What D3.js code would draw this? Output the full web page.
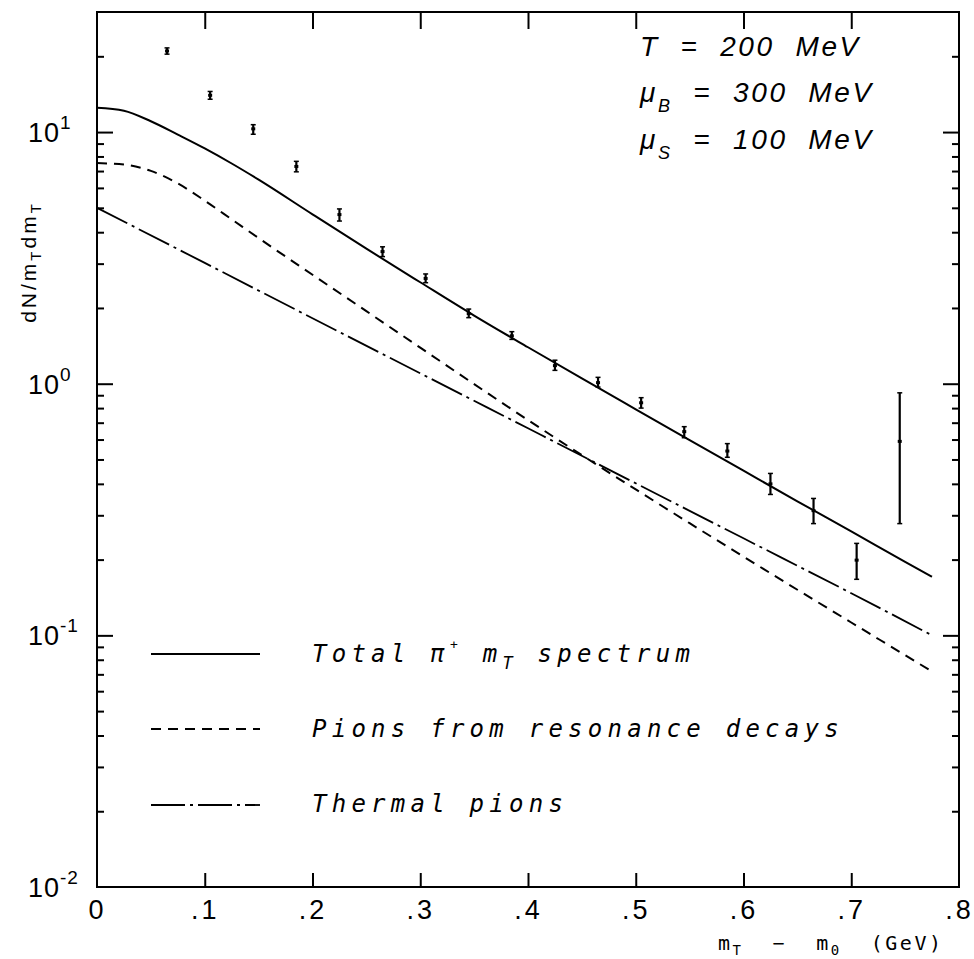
<!DOCTYPE html>
<html><head><meta charset="utf-8">
<script src="https://cdn.jsdelivr.net/npm/d3@7"></script>
<style>body{margin:0;background:#fff}svg{display:block}</style>
</head><body>
<svg id="chart" width="974" height="959"></svg>
<script>
// ---- data ----
const curveX   = [0,0.025,0.05,0.075,0.1,0.125,0.15,0.2,0.25,0.3,0.35,0.4,0.45,0.5,0.55,0.6,0.65,0.7,0.75,0.775];
const totalY   = [12.5,12.16,11.04,9.77,8.61,7.50,6.47,4.71,3.44,2.53,1.866,1.396,1.049,0.791,0.597,0.451,0.341,0.259,0.196,0.171];
const resonY   = [7.53,7.43,7.01,6.25,5.34,4.50,3.79,2.71,1.942,1.391,0.996,0.717,0.52,0.380,0.279,0.2055,0.1518,0.1125,0.0834,0.0718];
const thermalX = [0,0.1,0.2,0.3,0.4,0.5,0.6,0.7,0.775];
const thermalY = [5.0,3.02,1.82,1.10,0.665,0.402,0.243,0.147,0.100];

const dataX  = [0.065,0.105,0.145,0.185,0.225,0.265,0.305,0.345,0.385,0.425,0.465,0.505,0.545,0.585,0.625,0.665,0.705,0.745];
const dataY  = [21.0,14.0,10.3,7.3,4.7,3.35,2.62,1.90,1.55,1.18,1.01,0.84,0.645,0.54,0.40,0.313,0.199,0.59];
const dataLo = [20.4,13.5,9.8,6.95,4.43,3.2,2.52,1.83,1.50,1.13,0.97,0.80,0.61,0.51,0.363,0.278,0.167,0.278];
const dataHi = [21.6,14.5,10.7,7.65,4.95,3.5,2.73,1.98,1.61,1.24,1.06,0.88,0.675,0.578,0.44,0.35,0.232,0.92];

const xTicks = [0,0.1,0.2,0.3,0.4,0.5,0.6,0.7,0.8];
const xTickLabels = ["0",".1",".2",".3",".4",".5",".6",".7",".8"];
const yMajor = [0.01,0.1,1,10];
const yMajorExp = ["-2","-1","0","1"];
const yMinor = [0.02,0.03,0.04,0.05,0.06,0.07,0.08,0.09,0.2,0.3,0.4,0.5,0.6,0.7,0.8,0.9,2,3,4,5,6,7,8,9,20];

const legendLabels = ["Total", "Pions from resonance decays", "Thermal pions"];
const annot = [["T","","=  200  MeV"],["\u03BC","B","=  300  MeV"],["\u03BC","S","=  100  MeV"]];

// ---- layout ----
const L = 97, R = 959, T = 12, B = 887;
const svg = d3.select("#chart");
const x = d3.scaleLinear().domain([0,0.8]).range([L,R]);
const y = d3.scaleLog().domain([0.01,30]).range([B,T]);

const sansFont = "'Liberation Sans', Arial, sans-serif";
const monoFont = "'DejaVu Sans Mono', monospace";

// frame
svg.append("rect").attr("x",L).attr("y",T).attr("width",R-L).attr("height",B-T)
  .attr("fill","none").attr("stroke","#000").attr("stroke-width",2);

function styleAxis(g){ g.select(".domain").remove(); g.selectAll("line").attr("stroke","#000").attr("stroke-width",2); }

// bottom axis
const gB = svg.append("g").attr("transform",`translate(0,${B})`)
  .call(d3.axisBottom(x).tickValues(xTicks).tickSize(-14).tickPadding(13)
    .tickFormat((d,i)=>xTickLabels[i]));
styleAxis(gB);
gB.selectAll("text").attr("font-family",sansFont).attr("font-size",27).attr("fill","#000")
  .attr("letter-spacing",3);
gB.selectAll(".tick").filter(d=>d===0||d===0.8).select("line").remove();

// top axis
const gT = svg.append("g").attr("transform",`translate(0,${T})`)
  .call(d3.axisTop(x).tickValues(xTicks.slice(1,-1)).tickSize(-17).tickFormat(""));
styleAxis(gT);

// left axis
const gL1 = svg.append("g").attr("transform",`translate(${L},0)`)
  .call(d3.axisLeft(y).tickValues(yMajor.slice(1)).tickSize(-16).tickFormat(""));
styleAxis(gL1);
const gL2 = svg.append("g").attr("transform",`translate(${L},0)`)
  .call(d3.axisLeft(y).tickValues(yMinor).tickSize(-7).tickFormat(""));
styleAxis(gL2);
// right axis
const gR1 = svg.append("g").attr("transform",`translate(${R},0)`)
  .call(d3.axisRight(y).tickValues(yMajor.slice(1)).tickSize(-16).tickFormat(""));
styleAxis(gR1);
const gR2 = svg.append("g").attr("transform",`translate(${R},0)`)
  .call(d3.axisRight(y).tickValues(yMinor).tickSize(-7).tickFormat(""));
styleAxis(gR2);

// y tick labels 10^n
yMajor.forEach((v,i)=>{
  const t = svg.append("text").attr("x",28).attr("y",y(v)+10)
    .attr("font-family",sansFont).attr("font-size",27).attr("fill","#000").attr("letter-spacing",1);
  t.append("tspan").text("10");
  t.append("tspan").attr("dy",-13).attr("font-size",19).text(yMajorExp[i]);
});

// y axis title
const yt = svg.append("text").attr("transform","translate(36,262) rotate(-90)")
  .attr("text-anchor","middle").attr("font-family",sansFont).attr("font-size",21)
  .attr("letter-spacing",3).attr("fill","#000");
yt.append("tspan").text("dN/m");
yt.append("tspan").attr("dy",5).attr("font-size",15).text("T");
yt.append("tspan").attr("dy",-5).text("dm");
yt.append("tspan").attr("dy",5).attr("font-size",15).text("T");

// x axis title
const xt = svg.append("text").attr("x",718).attr("y",950).attr("xml:space","preserve")
  .attr("font-family",monoFont).attr("font-size",20).attr("letter-spacing",2.5).attr("fill","#000");
xt.append("tspan").text("m");
xt.append("tspan").attr("dy",5).attr("font-size",14).text("T");
xt.append("tspan").attr("dy",-5).text("  \u2212  m");
xt.append("tspan").attr("dy",5).attr("font-size",14).text("0");
xt.append("tspan").attr("dy",-5).text("  (GeV)");

// curves
const line = d3.line().x(d=>x(d[0])).y(d=>y(d[1])).curve(d3.curveMonotoneX);
const styles = [
  {dash:null, w:2},
  {dash:"10,7", w:2},
  {dash:"34,5,3,5", w:1.8}
];
svg.append("path").datum(curveX.map((v,i)=>[v,totalY[i]])).attr("d",line)
  .attr("fill","none").attr("stroke","#000").attr("stroke-width",styles[0].w);
svg.append("path").datum(curveX.map((v,i)=>[v,resonY[i]])).attr("d",line)
  .attr("fill","none").attr("stroke","#000").attr("stroke-width",styles[1].w).attr("stroke-dasharray",styles[1].dash);
svg.append("path").datum(thermalX.map((v,i)=>[v,thermalY[i]])).attr("d",line)
  .attr("fill","none").attr("stroke","#000").attr("stroke-width",styles[2].w).attr("stroke-dasharray",styles[2].dash);

// data points with error bars
const pts = svg.append("g");
dataX.forEach((v,i)=>{
  const cx = x(v);
  pts.append("line").attr("x1",cx).attr("x2",cx).attr("y1",y(dataLo[i])).attr("y2",y(dataHi[i]))
    .attr("stroke","#000").attr("stroke-width",2.2);
  [dataLo[i],dataHi[i]].forEach(e=>{
    pts.append("line").attr("x1",cx-2.5).attr("x2",cx+2.5).attr("y1",y(e)).attr("y2",y(e))
      .attr("stroke","#000").attr("stroke-width",1.5);
  });
  pts.append("rect").attr("x",cx-2).attr("y",y(dataY[i])-1.5).attr("width",4).attr("height",3).attr("fill","#000");
});

// legend
const legY = [654,729,805];
const legTextY = [662,737,812];
legY.forEach((ly,i)=>{
  const l = svg.append("line").attr("x1",151).attr("x2",260).attr("y1",ly).attr("y2",ly)
    .attr("stroke","#000").attr("stroke-width",styles[i].w);
  if(styles[i].dash) l.attr("stroke-dasharray",styles[i].dash);
});
function legText(i){
  return svg.append("text").attr("x",312).attr("y",legTextY[i])
    .attr("font-family",monoFont).attr("font-style","italic").attr("font-size",24)
    .attr("letter-spacing",5.25).attr("fill","#000").attr("xml:space","preserve");
}
const lt0 = legText(0);
lt0.append("tspan").text(legendLabels[0] + " \u03C0");
lt0.append("tspan").attr("dy",-13).attr("font-size",13).text("+");
lt0.append("tspan").attr("dy",13).text(" m");
lt0.append("tspan").attr("dy",7).attr("font-size",17).text("T");
lt0.append("tspan").attr("dy",-7).text(" spectrum");
legText(1).text(legendLabels[1]);
legText(2).text(legendLabels[2]);

// parameter annotation
const annY = [56,102,149];
annot.forEach((a,i)=>{
  const t = svg.append("text").attr("x",640).attr("y",annY[i])
    .attr("font-family",sansFont).attr("font-style","italic").attr("font-size",28)
    .attr("letter-spacing",2.6).attr("fill","#000").attr("xml:space","preserve");
  t.append("tspan").text(a[0]);
  if(a[1]){
    t.append("tspan").attr("dy",10).attr("font-size",18).text(a[1]);
    t.append("tspan").attr("dy",-10).text("  "+a[2]);
  } else {
    t.append("tspan").text("  "+a[2]);
  }
});
</script>
</body></html>
